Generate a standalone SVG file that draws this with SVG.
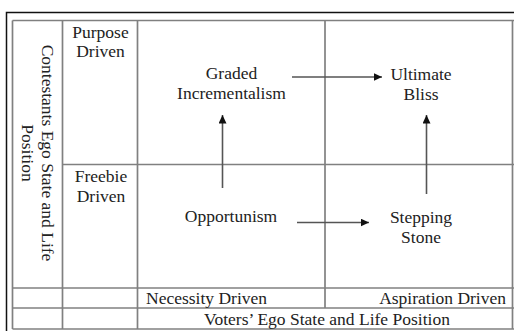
<svg xmlns="http://www.w3.org/2000/svg" width="514" height="331" viewBox="0 0 514 331">
<style>
text{font-family:"Liberation Serif","Times New Roman",serif;font-size:17.5px;fill:#222;}
.c{text-anchor:middle;}
.grid line{stroke:#808080;stroke-width:1.7;}
.conn path{stroke:#555;stroke-width:1.6;fill:none;marker-end:url(#ah);}
</style>
<defs>
<marker id="ah" markerUnits="userSpaceOnUse" markerWidth="9" markerHeight="8" refX="8.5" refY="4" orient="auto">
<path d="M0,0 L8.5,4 L0,8 z" fill="#111"/>
</marker>
</defs>
<rect x="0" y="0" width="514" height="331" fill="#fff"/>
<path d="M6.5,340 V12.5 H520" fill="none" stroke="#111" stroke-width="1.5"/>
<g class="grid">
<line x1="12.5" y1="20.5" x2="514" y2="20.5"/>
<line x1="62.5" y1="164.5" x2="514" y2="164.5"/>
<line x1="12.5" y1="288" x2="514" y2="288"/>
<line x1="12.5" y1="308" x2="514" y2="308"/>
<line x1="12.5" y1="329" x2="514" y2="329"/>
<line x1="12.5" y1="20.5" x2="12.5" y2="329"/>
<line x1="62.5" y1="20.5" x2="62.5" y2="329"/>
<line x1="137.5" y1="20.5" x2="137.5" y2="329"/>
<line x1="325" y1="20.5" x2="325" y2="308"/>
<line x1="512.5" y1="20.5" x2="512.5" y2="329"/>
</g>
<g id="row-axis">
<text class="c" transform="translate(42,153) rotate(90)"><tspan x="0" y="0">Contestants Ego State and Life</tspan><tspan x="0" y="20">Position</tspan></text>
</g>
<g id="purpose-driven"><text class="c"><tspan x="100.5" y="37.5">Purpose</tspan><tspan x="100.5" y="57">Driven</tspan></text></g>
<g id="freebie-driven"><text class="c"><tspan x="101" y="182">Freebie</tspan><tspan x="101" y="201.5">Driven</tspan></text></g>
<g id="graded"><text class="c"><tspan x="231.5" y="79">Graded</tspan><tspan x="231.5" y="98.5">Incrementalism</tspan></text></g>
<g id="ultimate"><text class="c"><tspan x="421" y="80">Ultimate</tspan><tspan x="421" y="99.5">Bliss</tspan></text></g>
<g id="opportunism"><text class="c" x="231" y="222">Opportunism</text></g>
<g id="stepping"><text class="c"><tspan x="421" y="223">Stepping</tspan><tspan x="421" y="242.5">Stone</tspan></text></g>
<g id="necessity"><text x="146" y="304">Necessity Driven</text></g>
<g id="aspiration"><text x="506" y="304" text-anchor="end">Aspiration Driven</text></g>
<g id="col-axis"><text class="c" x="327" y="325">Voters’ Ego State and Life Position</text></g>
<g class="conn" id="connectors">
<path d="M292,77 H382"/>
<path d="M222.5,188 V115"/>
<path d="M297,222.5 H369"/>
<path d="M426.5,194 V115"/>
</g>
</svg>
